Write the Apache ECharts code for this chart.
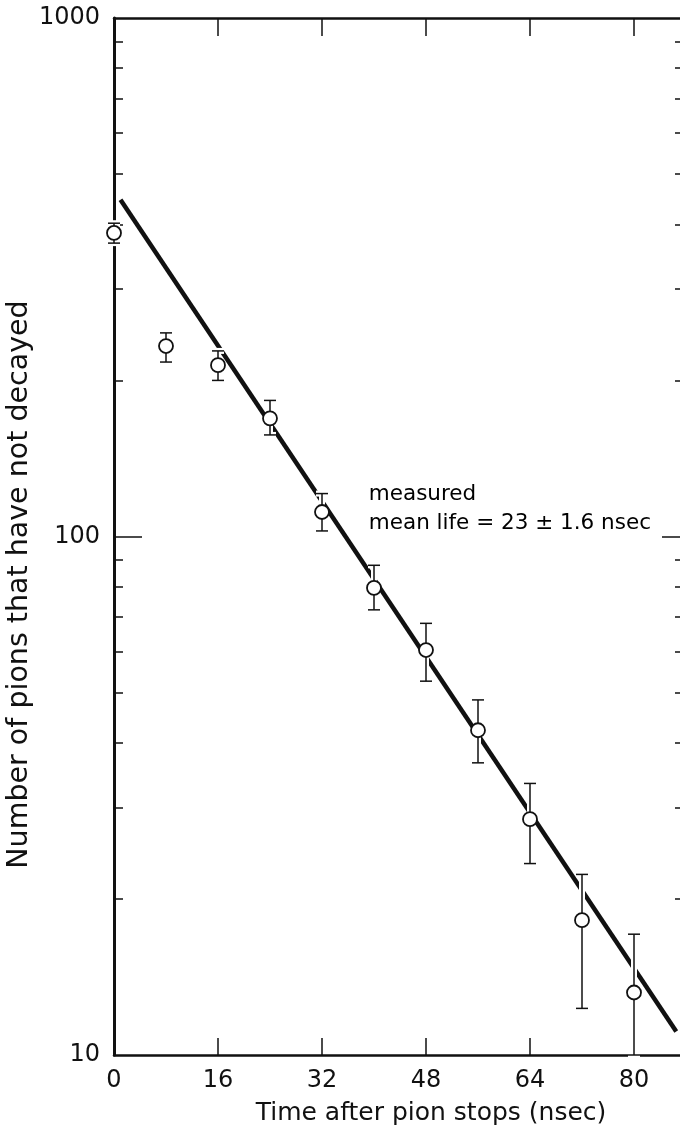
<!DOCTYPE html>
<html>
<head>
<meta charset="utf-8">
<script src="https://cdn.jsdelivr.net/npm/echarts@6/dist/echarts.min.js"></script>
<style>
  html, body { margin: 0; padding: 0; background: #fff; }
  #chart { width: 680px; height: 1137px; }
</style>
</head>
<body>
<div id="chart"></div>
<script>
// ---- data ----
const times    = [0, 8, 16, 24, 32, 40, 48, 56, 64, 72, 80];
const counts   = [385, 233, 214, 169, 111.5, 79.6, 60.4, 42.3, 28.5, 18.2, 13.2];
const errHigh  = [402, 247, 228, 183, 121, 88, 68, 48.4, 33.4, 22.3, 17.1];
const errLow   = [368, 217, 200, 157, 102.5, 72.2, 52.6, 36.6, 23.4, 12.3, 10];
const fitTimes  = [1, 86.5];
const fitCounts = [446, 11.1];
const xTickLabels = [0, 16, 32, 48, 64, 80];
const xTickMarks  = [16, 32, 48, 64, 80];
const yLabels = [10, 100, 1000];
const yMajorTicks = [100];
const yMinorTicks = [20, 30, 40, 50, 60, 70, 80, 90, 200, 300, 400, 500, 600, 700, 800, 900];
const annotation = { t: 39.2, n: 113, text: 'measured\nmean life = 23 ± 1.6 nsec' };

const FONT = 'DejaVu Sans';
const INK = '#111';

const chart = echarts.init(document.getElementById('chart'), null, { renderer: 'canvas' });

const logAxisBase = {
  type: 'log', logBase: 10, min: 10, max: 1000,
  splitLine: { show: false }, minorTick: { show: false }
};

const option = {
  backgroundColor: '#fff',
  animation: false,
  grid: { left: 114, right: -6, top: 18, bottom: 82, containLabel: false, outerBoundsMode: 'none' },
  xAxis: [
    {
      type: 'value', position: 'bottom', min: 0, max: 88,
      axisLine: { show: true, lineStyle: { color: INK, width: 2.5 } },
      axisTick: { show: true, inside: true, length: 17, customValues: xTickMarks, lineStyle: { color: INK, width: 1.5 } },
      axisLabel: { show: true, customValues: xTickLabels, margin: 14, fontSize: 24, fontFamily: FONT, color: INK },
      splitLine: { show: false },
      name: 'Time after pion stops (nsec)', nameLocation: 'middle', nameGap: 46,
      nameTextStyle: { fontSize: 25, fontFamily: FONT, color: INK, padding: [0, 0, 0, 62] }
    },
    {
      type: 'value', position: 'top', min: 0, max: 88,
      axisLine: { show: true, lineStyle: { color: INK, width: 2.5 } },
      axisTick: { show: true, inside: true, length: 18, customValues: xTickMarks, lineStyle: { color: INK, width: 1.5 } },
      axisLabel: { show: false },
      splitLine: { show: false }
    }
  ],
  yAxis: [
    Object.assign({}, logAxisBase, {
      position: 'left',
      axisLine: { show: true, lineStyle: { color: INK, width: 3 } },
      axisTick: { show: true, inside: true, length: 28, customValues: yMajorTicks, lineStyle: { color: INK, width: 1.5 } },
      axisLabel: { show: true, customValues: yLabels, margin: 14, fontSize: 24, fontFamily: FONT, color: INK,
                   formatter: v => String(Math.round(v)) },
      name: 'Number of pions that have not decayed', nameLocation: 'middle', nameRotate: 90, nameGap: 80,
      nameMoveOverlap: false,
      nameTextStyle: { fontSize: 28.5, fontFamily: FONT, color: INK, padding: [0, 96, 0, 0] }
    }),
    Object.assign({}, logAxisBase, {
      position: 'left',
      axisLine: { show: false },
      axisTick: { show: true, inside: true, length: 9, customValues: yMinorTicks, lineStyle: { color: INK, width: 1.5 } },
      axisLabel: { show: false }
    }),
    Object.assign({}, logAxisBase, {
      position: 'right',
      axisLine: { show: true, lineStyle: { color: INK, width: 2.5 } },
      axisTick: { show: true, inside: true, length: 24, customValues: yMajorTicks, lineStyle: { color: INK, width: 1.5 } },
      axisLabel: { show: false }
    }),
    Object.assign({}, logAxisBase, {
      position: 'right',
      axisLine: { show: false },
      axisTick: { show: true, inside: true, length: 11, customValues: yMinorTicks, lineStyle: { color: INK, width: 1.5 } },
      axisLabel: { show: false }
    })
  ],
  series: [
    {
      name: 'fit', type: 'line', xAxisIndex: 0, yAxisIndex: 0, z: 1,
      data: fitTimes.map((t, i) => [t, fitCounts[i]]),
      showSymbol: false, symbol: 'none',
      lineStyle: { color: INK, width: 4.5, opacity: 1 }
    },
    {
      name: 'errors', type: 'custom', xAxisIndex: 0, yAxisIndex: 0, z: 2,
      data: times.map((t, i) => [t, errLow[i], errHigh[i]]),
      encode: { x: 0, y: [1, 2] },
      clip: false,
      renderItem: function (params, api) {
        const lo = api.coord([api.value(0), api.value(1)]);
        const hi = api.coord([api.value(0), api.value(2)]);
        const cw = 6;
        const segs = [
          [lo[0], lo[1], hi[0], hi[1]],
          [hi[0] - cw, hi[1], hi[0] + cw, hi[1]],
          [lo[0] - cw, lo[1], lo[0] + cw, lo[1]]
        ];
        const children = [];
        segs.forEach(s => children.push({
          type: 'line', shape: { x1: s[0], y1: s[1], x2: s[2], y2: s[3] },
          style: { stroke: '#fff', lineWidth: 6 }
        }));
        segs.forEach(s => children.push({
          type: 'line', shape: { x1: s[0], y1: s[1], x2: s[2], y2: s[3] },
          style: { stroke: INK, lineWidth: 1.5 }
        }));
        return { type: 'group', children: children };
      }
    },
    {
      name: 'measured', type: 'scatter', xAxisIndex: 0, yAxisIndex: 0, z: 3,
      data: times.map((t, i) => [t, counts[i]]),
      symbol: 'circle', symbolSize: 14,
      itemStyle: { color: '#fff', borderColor: INK, borderWidth: 1.8, opacity: 1 }
    },
    {
      name: 'annotation', type: 'scatter', xAxisIndex: 0, yAxisIndex: 0, z: 4,
      data: [[annotation.t, annotation.n]],
      symbolSize: 0, silent: true,
      itemStyle: { opacity: 1 },
      label: {
        show: true, position: [0, 0], align: 'left', verticalAlign: 'middle', opacity: 1,
        formatter: annotation.text, fontSize: 21.5, lineHeight: 29, fontFamily: FONT, color: '#000'
      }
    }
  ]
};

chart.setOption(option);
</script>
</body>
</html>
